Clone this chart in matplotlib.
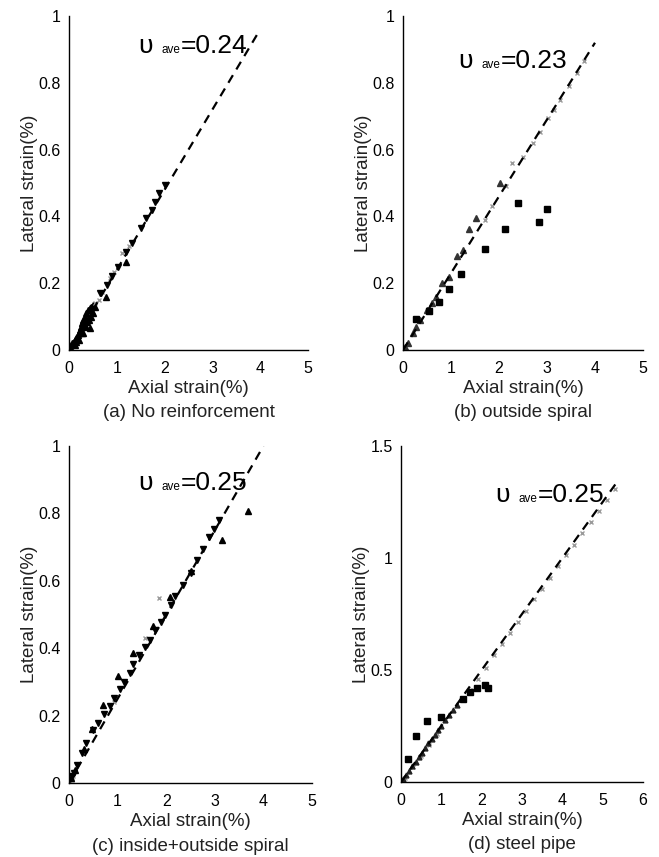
import matplotlib.pyplot as plt

plt.rcParams['font.family'] = ['Liberation Sans', 'DejaVu Sans']

# ---- (a) No reinforcement ----
a_down_x = [2.01, 1.89, 1.80, 1.73, 1.61, 1.50, 1.32, 1.19, 1.03, 0.91, 0.79, 0.65]
a_down_y = [0.494, 0.469, 0.444, 0.419, 0.394, 0.364, 0.319, 0.294, 0.249, 0.221, 0.195, 0.17]
a_up_x = [1.19, 0.77, 0.44, 0.30, 0.15]
a_up_y = [0.264, 0.160, 0.066, 0.05, 0.025]
a_clu_x = [0.03, 0.05, 0.08, 0.10, 0.12, 0.15, 0.18, 0.20, 0.22, 0.25, 0.28, 0.30, 0.33, 0.36,
           0.40, 0.43, 0.47, 0.50, 0.12, 0.20, 0.28, 0.35, 0.42, 0.50, 0.55, 0.06, 0.16, 0.25,
           0.38, 0.45, 0.32, 0.48]
a_clu_y = [0.01, 0.015, 0.02, 0.025, 0.03, 0.035, 0.045, 0.05, 0.06, 0.07, 0.08, 0.09, 0.10, 0.11,
           0.12, 0.125, 0.13, 0.135, 0.015, 0.03, 0.05, 0.07, 0.09, 0.11, 0.13, 0.02, 0.04, 0.06,
           0.085, 0.10, 0.075, 0.115]
a_grey_x = [0.55, 0.62, 0.70, 0.85, 0.95, 1.10, 1.25]
a_grey_y = [0.14, 0.15, 0.175, 0.215, 0.235, 0.29, 0.31]

# ---- (b) outside spiral ----
b_sq_x = [0.27, 0.55, 0.75, 0.95, 1.21, 1.71, 2.125, 2.40, 2.83, 3.01]
b_sq_y = [0.093, 0.117, 0.145, 0.183, 0.227, 0.303, 0.362, 0.439, 0.384, 0.421]
b_tri_x = [0.05, 0.10, 0.20, 0.35, 0.50, 0.69, 0.81, 1.13, 1.38, 1.53, 2.03, 0.28, 0.60, 0.95, 1.25]
b_tri_y = [0.01, 0.02, 0.05, 0.09, 0.12, 0.158, 0.20, 0.28, 0.361, 0.394, 0.50, 0.07, 0.14, 0.22, 0.30]
b_grey_x = [1.70, 1.85, 2.15, 2.28, 2.50, 2.71, 2.85, 3.03, 3.15, 3.27, 3.45, 3.62, 3.78]
b_grey_y = [0.39, 0.43, 0.49, 0.559, 0.579, 0.62, 0.654, 0.694, 0.72, 0.749, 0.79, 0.83, 0.865]

# ---- (c) inside+outside spiral ----
c_down_x = [3.09, 2.99, 2.88, 2.76, 2.63, 2.51, 2.35, 2.18, 2.10, 1.98, 1.89, 1.77, 1.67, 1.56,
            1.45, 1.32, 1.26, 1.14, 1.05, 0.93, 0.84, 0.73, 0.60, 0.50, 0.36, 0.26, 0.16, 0.10, 0.06]
c_down_y = [0.782, 0.755, 0.731, 0.696, 0.662, 0.624, 0.588, 0.555, 0.528, 0.499, 0.479, 0.454,
            0.424, 0.404, 0.380, 0.353, 0.326, 0.301, 0.278, 0.251, 0.228, 0.206, 0.177, 0.157,
            0.118, 0.088, 0.053, 0.03, 0.02]
c_up_x = [3.69, 3.14, 2.52, 2.08, 1.72, 1.32, 1.01, 0.71, 0.47, 0.30, 0.12, 0.05]
c_up_y = [0.808, 0.721, 0.628, 0.553, 0.466, 0.387, 0.318, 0.231, 0.159, 0.10, 0.04, 0.015]
c_grey_x = [0.03, 0.06, 0.09, 1.56, 1.85, 0.92]
c_grey_y = [0.005, 0.01, 0.02, 0.43, 0.55, 0.24]

# ---- (d) steel pipe ----
d_sq_x = [0.17, 0.36, 0.64, 0.98, 1.54, 1.70, 1.88, 2.09, 2.16]
d_sq_y = [0.103, 0.207, 0.272, 0.292, 0.369, 0.403, 0.421, 0.433, 0.421]
d_blk_x = [0.05, 0.12, 0.20, 0.28, 0.36, 0.44, 0.52, 0.60, 0.68, 0.76, 0.84, 0.92, 1.00, 1.10,
           1.20, 1.30, 1.40, 1.50]
d_blk_y = [0.012, 0.03, 0.05, 0.07, 0.09, 0.11, 0.13, 0.152, 0.172, 0.192, 0.212, 0.232, 0.252,
           0.276, 0.30, 0.322, 0.346, 0.37]
d_grey_x = [0.10, 0.30, 0.50, 0.70, 0.90, 1.70, 1.90, 2.10, 2.30, 2.50, 2.70, 2.90, 3.10, 3.30,
            3.50, 3.70, 3.90, 4.10, 4.30, 4.50, 4.70, 4.90, 5.10, 5.30]
d_grey_y = [0.02, 0.065, 0.115, 0.165, 0.215, 0.41, 0.46, 0.51, 0.565, 0.615, 0.665, 0.715,
            0.765, 0.815, 0.86, 0.91, 0.965, 1.015, 1.06, 1.11, 1.16, 1.21, 1.26, 1.31]

nu = ['0.24', '0.23', '0.25', '0.25']
nu_slope = [0.24, 0.23, 0.25, 0.25]
fit_xmax = [4.0, 4.0, 4.0, 5.4]
captions = ['(a) No reinforcement', '(b) outside spiral',
            '(c) inside+outside spiral', '(d) steel pipe']
xmax = [5, 5, 5, 6]
ymax = [1, 1, 1, 1.5]
yticks = [[0, 0.2, 0.4, 0.6, 0.8, 1], [0, 0.2, 0.4, 0.6, 0.8, 1],
          [0, 0.2, 0.4, 0.6, 0.8, 1], [0, 0.5, 1, 1.5]]
ytick_labels = [['0', '0.2', '0.4', '0.6', '0.8', '1']] * 3 + [['0', '0.5', '1', '1.5']]
label_pos = [(0.289, 0.889), (0.229, 0.844), (0.284, 0.869), (0.388, 0.833)]

fig = plt.figure(figsize=(6.59, 8.57), dpi=100)
rects = [[0.1047, 0.5916, 0.3627, 0.3897],
         [0.6115, 0.5916, 0.3642, 0.3897],
         [0.1047, 0.0863, 0.3687, 0.3932],
         [0.6085, 0.0875, 0.3672, 0.3921]]
axes = [fig.add_axes(r) for r in rects]

grey = '#9a9a9a'

ax = axes[0]
ax.plot(a_clu_x, a_clu_y, '^', color='black', ms=4, ls='none')
ax.plot(a_grey_x, a_grey_y, 'x', color=grey, ms=3, ls='none')
ax.plot(a_down_x, a_down_y, 'v', color='black', ms=4.5, ls='none')
ax.plot(a_up_x, a_up_y, '^', color='black', ms=4.5, ls='none')

ax = axes[1]
ax.plot(b_grey_x, b_grey_y, 'x', color=grey, ms=3, ls='none')
ax.plot(b_tri_x, b_tri_y, '^', color='#333333', ms=4, ls='none')
ax.plot(b_sq_x, b_sq_y, 's', color='black', ms=5, ls='none')

ax = axes[2]
ax.plot(c_grey_x, c_grey_y, 'x', color=grey, ms=3, ls='none')
ax.plot(c_down_x, c_down_y, 'v', color='black', ms=4.5, ls='none')
ax.plot(c_up_x, c_up_y, '^', color='black', ms=4.5, ls='none')

ax = axes[3]
ax.plot(d_grey_x, d_grey_y, 'x', color=grey, ms=3, ls='none')
ax.plot(d_blk_x, d_blk_y, '^', color='#222222', ms=3.5, ls='none')
ax.plot(d_sq_x, d_sq_y, 's', color='black', ms=5, ls='none')

for i, ax in enumerate(axes):
    ax.plot([0, fit_xmax[i]], [0, nu_slope[i] * fit_xmax[i]], color='black',
            lw=1.6, ls=(0, (4, 3)))
    ax.set_xlim(0, xmax[i])
    ax.set_ylim(0, ymax[i])
    ax.set_xticks(range(xmax[i] + 1))
    ax.set_yticks(yticks[i])
    ax.set_yticklabels(ytick_labels[i])
    ax.tick_params(length=0, labelsize=11.5)
    ax.tick_params(axis='x', pad=8)
    ax.tick_params(axis='y', pad=6)
    for s in ['top', 'right']:
        ax.spines[s].set_visible(False)
    ax.spines['left'].set_linewidth(1.0)
    ax.spines['bottom'].set_linewidth(1.0)
    ax.set_ylabel('Lateral strain(%)', fontsize=13.5, color='#222222', labelpad=0)
    ax.set_xlabel('Axial strain(%)', fontsize=13.5, color='#222222', labelpad=3)
    ax.text(0.5, -0.187, captions[i], transform=ax.transAxes, ha='center', va='center',
            fontsize=13.5, color='#222222')
    px, py = label_pos[i]
    ax.annotate('υ', xy=(px, py), xycoords='axes fraction', fontsize=19,
                ha='left', va='baseline')
    ax.annotate('ave', xy=(px, py), xycoords='axes fraction', xytext=(17, 0),
                textcoords='offset points', fontsize=8.5, ha='left', va='baseline')
    ax.annotate('=' + nu[i], xy=(px, py), xycoords='axes fraction', xytext=(31, 0),
                textcoords='offset points', fontsize=19, ha='left', va='baseline')

fig.savefig('out.png', dpi=100)
